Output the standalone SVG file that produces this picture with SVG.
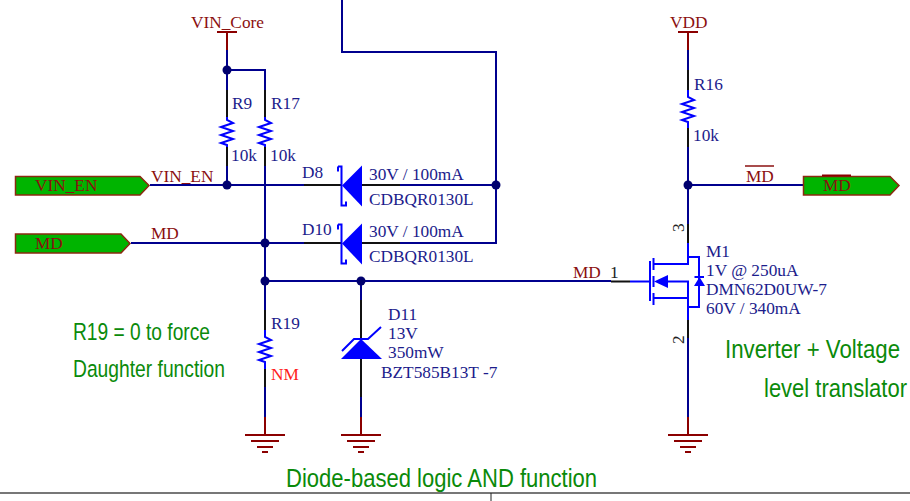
<svg xmlns="http://www.w3.org/2000/svg" width="910" height="501" viewBox="0 0 910 501">
<style>
text{font-family:"Liberation Serif",serif;font-size:17.300px;fill:#1c1c8c}
.r{fill:#8b1010}
.g{font-family:"Liberation Sans",sans-serif;fill:#0a8a0a;font-size:26.500px}
.w{fill:none;stroke:#00008e;stroke-width:2}
.k{fill:none;stroke:#111;stroke-width:2}
.b{fill:none;stroke:#0000ff;stroke-width:2}
.d{fill:none;stroke:#8b0000;stroke-width:2}
.f{fill:#0000ff;stroke:none}
.j{fill:#00006e;stroke:none}
.p{fill:#00b400;stroke:#8b2a10;stroke-width:1.500}
</style>
<defs>
<g id="gnd"><path class="d" d="M0-18V0M-20 0H20M-14 6H14M-8 12H8M-3 17H3"/></g>
<g id="res"><path class="b" d="M0 0V3L6 6L-6 10L6 14L-6 18L6 22L-6 26L0 28V30"/></g>
<g id="sch"><path class="f" d="M342 0L362-20V21Z"/><path class="b" d="M338-19H341.500V20H346V16"/><path class="b" d="M338-19V-14"/></g>
</defs>
<g id="connectors">
<path class="w" d="M227 50V90M227 70H265V90M227 147V185M265 147V281M150 185H304M400 185H496M131 243H304M400 243H496V52H342V0M265 281V310M265 369V417M265 281H611M361 281V300M361 397V417M688 50V70M688 147V224M688 338V418M688 185H803"/>
</g>
<g id="j1"><circle class="j" cx="227" cy="70" r="4.500"/></g>
<g id="j2"><circle class="j" cx="227" cy="185" r="4.500"/></g>
<g id="j3"><circle class="j" cx="265" cy="243" r="4.500"/></g>
<g id="j4"><circle class="j" cx="265" cy="281" r="4.500"/></g>
<g id="j5"><circle class="j" cx="361" cy="281" r="4.500"/></g>
<g id="j6"><circle class="j" cx="496" cy="185" r="4.500"/></g>
<g id="j7"><circle class="j" cx="688" cy="185" r="4.500"/></g>
<g id="VIN_Core"><path class="d" d="M217 32H237M227 32V50"/><text class="r" x="191" y="28">VIN_Core</text></g>
<g id="VDD"><path class="d" d="M678 32H698M688 32V50"/><text class="r" x="670" y="28">VDD</text></g>
<g id="port_VIN_EN"><path class="p" d="M15.500 176.500H140L149 185.500L140 195H15.500Z"/><text class="r" x="35" y="191">VIN_EN</text></g>
<text class="r" x="151" y="181.500">VIN_EN</text>
<g id="port_MD"><path class="p" d="M15.500 234H121L130 243.500L121 253H15.500Z"/><text class="r" x="35" y="249">MD</text></g>
<text class="r" x="151" y="239">MD</text>
<g id="port_MD_bar"><path class="p" d="M803.500 176.500H890L899 185.500L890 195H803.500Z"/><path class="d" d="M822 175.500H851"/><text class="r" x="823" y="191">MD</text></g>
<g id="MD_bar_label"><path stroke="#8b1010" stroke-width="1.500" d="M745 166H774"/><text class="r" x="746" y="182">MD</text></g>
<g id="R9"><path class="k" d="M227 90V117M227 147V166"/><use href="#res" x="227" y="117"/><text x="232" y="109">R9</text><text x="231" y="161">10k</text></g>
<g id="R17"><path class="k" d="M265 90V117M265 147V166"/><use href="#res" x="265" y="117"/><text x="271" y="109">R17</text><text x="270" y="161">10k</text></g>
<g id="R16"><path class="k" d="M688 70V90M688 128V147"/><path class="b" d="M688 90V94M688 124V128"/><use href="#res" x="688" y="94"/><text x="694" y="90">R16</text><text x="693" y="141">10k</text></g>
<g id="R19"><path class="k" d="M265 310V330M265 369V387"/><path class="b" d="M265 330V334M265 364V369"/><use href="#res" x="265" y="334"/><text x="271" y="329">R19</text><text x="271" y="380" style="fill:#ff2020">NM</text></g>
<g id="D8"><path class="k" d="M304 185H342M362 185H400"/><use href="#sch" y="185.500"/><text x="302" y="178">D8</text><text x="369" y="180">30V / 100mA</text><text x="369" y="205">CDBQR0130L</text></g>
<g id="D10"><path class="k" d="M304 243H342M362 243H400"/><use href="#sch" y="243.500"/><text x="302" y="235">D10</text><text x="369" y="237">30V / 100mA</text><text x="369" y="262">CDBQR0130L</text></g>
<g id="D11"><path class="k" d="M361 300V397"/><path class="f" d="M361 339L382 359H341Z"/><path class="b" d="M342 351L354 339H368L381 327"/><text x="388" y="320">D11</text><text x="388" y="339">13V</text><text x="388" y="358">350mW</text><text x="381" y="378">BZT585B13T -7</text></g>
<g id="M1"><path class="k" d="M611 281.500H630M688 224V243M688 320V338"/><path class="b" d="M630 281.500H650M650 261V301M653.500 258V270M653.500 276V287M653.500 293V305M653.500 264H688V243M688 257H699V307H688M653.500 298H688V320M668 281.500H688V298M694.500 277H704"/><path class="f" d="M654 281.500L668 275V288ZM699.500 277L705 286H694Z"/><text transform="translate(684 232) rotate(-90)" style="fill:#222">3</text><text transform="translate(684 344) rotate(-90)" style="fill:#222">2</text><text style="fill:#222" x="610" y="278">1</text><text class="r" x="573" y="278">MD</text><text x="706" y="257">M1</text><text x="706" y="276">1V @ 250uA</text><text x="706" y="295">DMN62D0UW-7</text><text x="706" y="314">60V / 340mA</text></g>
<use id="g1" href="#gnd" x="265" y="435"/><use id="g2" href="#gnd" x="361" y="435"/><use id="g3" href="#gnd" x="688" y="435"/>
<g id="notes"><text class="g" transform="translate(73 340) scale(.816 1)" style="font-size:23.500px">R19 = 0 to force</text><text class="g" transform="translate(73 377) scale(.82 1)" style="font-size:23.500px">Daughter function</text><text class="g" transform="translate(725 358) scale(.84 1)">Inverter + Voltage</text><text class="g" transform="translate(764 397) scale(.83 1)">level translator</text><text class="g" transform="translate(286 487) scale(.832 1)">Diode-based logic AND function</text></g>
<g id="frame"><path d="M0 493H910" stroke="#777" stroke-width="2"/><path d="M491 493V501" stroke="#222" stroke-width="1"/></g>
</svg>
